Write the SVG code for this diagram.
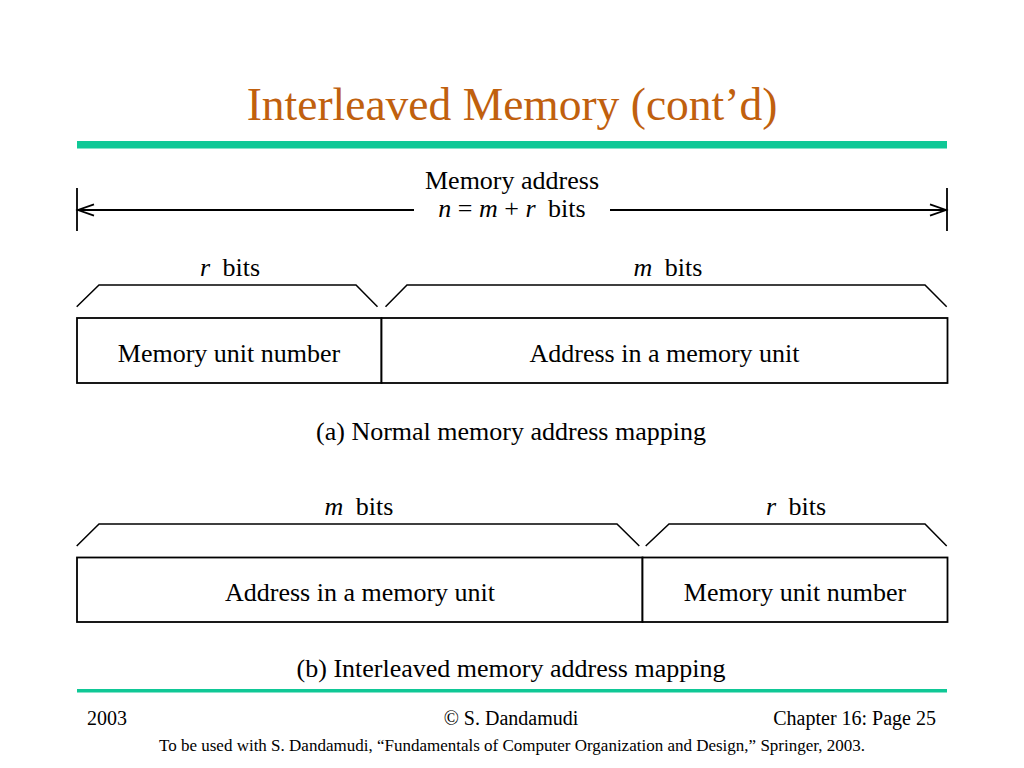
<svg xmlns="http://www.w3.org/2000/svg" width="1024" height="768" viewBox="0 0 1024 768">
<style>
.t{font-family:"Liberation Serif","Times New Roman",serif;fill:#000}
.box{fill:#fff;stroke:#000;stroke-width:1.8}
.br{fill:none;stroke:#000;stroke-width:1.5}
.ln{stroke:#000;stroke-width:1.8;fill:none}
</style>
<rect width="1024" height="768" fill="#fff"/>
<text class="t" x="512" y="120" font-size="45.5" text-anchor="middle" style="fill:#C0600E">Interleaved Memory (cont’d)</text>
<rect x="77" y="141" width="870" height="7.5" fill="#0FC896"/>

<g id="connectors">
<line class="ln" x1="77" y1="188" x2="77" y2="231"/>
<line class="ln" x1="947" y1="188" x2="947" y2="231"/>
<line class="ln" x1="77" y1="210" x2="414" y2="210"/>
<line class="ln" x1="610" y1="210" x2="947" y2="210"/>
<polyline class="ln" points="94,204.3 78,210 94,215.7"/>
<polyline class="ln" points="930,204.3 946,210 930,215.7"/>
</g>
<g id="total-label">
<text class="t" x="512" y="189" font-size="26" text-anchor="middle">Memory address</text>
<text class="t" x="512" y="217" font-size="26" text-anchor="middle"><tspan font-style="italic">n</tspan> = <tspan font-style="italic">m</tspan> + <tspan font-style="italic">r</tspan><tspan dx="6"> bits</tspan></text>
</g>

<g id="a-braces">
<polyline class="br" points="76.7,306.7 99,285 356,285 377.5,306.7"/>
<polyline class="br" points="385.5,306.7 407,285 925,285 946.7,306.7"/>
<text class="t" x="230" y="276" font-size="26" text-anchor="middle"><tspan font-style="italic">r</tspan><tspan dx="6"> bits</tspan></text>
<text class="t" x="668" y="276" font-size="26" text-anchor="middle"><tspan font-style="italic">m</tspan><tspan dx="6"> bits</tspan></text>
</g>
<g id="a-unit">
<rect class="box" x="77" y="318" width="304.5" height="65"/>
<text class="t" x="229" y="362" font-size="26" text-anchor="middle">Memory unit number</text>
</g>
<g id="a-addr">
<rect class="box" x="381.5" y="318" width="566" height="65"/>
<text class="t" x="664.5" y="362" font-size="26" text-anchor="middle">Address in a memory unit</text>
</g>
<text class="t" x="511" y="440" font-size="26" text-anchor="middle">(a) Normal memory address mapping</text>

<g id="b-braces">
<polyline class="br" points="76.7,546 99,524 617,524 639.3,546"/>
<polyline class="br" points="645.7,546 669,524 925,524 946.7,546"/>
<text class="t" x="359" y="515" font-size="26" text-anchor="middle"><tspan font-style="italic">m</tspan><tspan dx="6"> bits</tspan></text>
<text class="t" x="796" y="515" font-size="26" text-anchor="middle"><tspan font-style="italic">r</tspan><tspan dx="6"> bits</tspan></text>
</g>
<g id="b-addr">
<rect class="box" x="77" y="557.5" width="565.5" height="64.5"/>
<text class="t" x="360" y="601" font-size="26" text-anchor="middle">Address in a memory unit</text>
</g>
<g id="b-unit">
<rect class="box" x="642.5" y="557.5" width="305" height="64.5"/>
<text class="t" x="795" y="601" font-size="26" text-anchor="middle">Memory unit number</text>
</g>
<text class="t" x="511" y="677" font-size="26" text-anchor="middle">(b) Interleaved memory address mapping</text>

<rect x="77" y="689" width="870" height="3.5" fill="#0FC896"/>
<text class="t" x="87" y="725" font-size="20">2003</text>
<text class="t" x="511" y="725" font-size="20" text-anchor="middle">© S. Dandamudi</text>
<text class="t" x="936" y="725" font-size="20" text-anchor="end">Chapter 16: Page 25</text>
<text class="t" x="512" y="751" font-size="17" text-anchor="middle">To be used with S. Dandamudi, “Fundamentals of Computer Organization and Design,” Springer, 2003.</text>
</svg>
